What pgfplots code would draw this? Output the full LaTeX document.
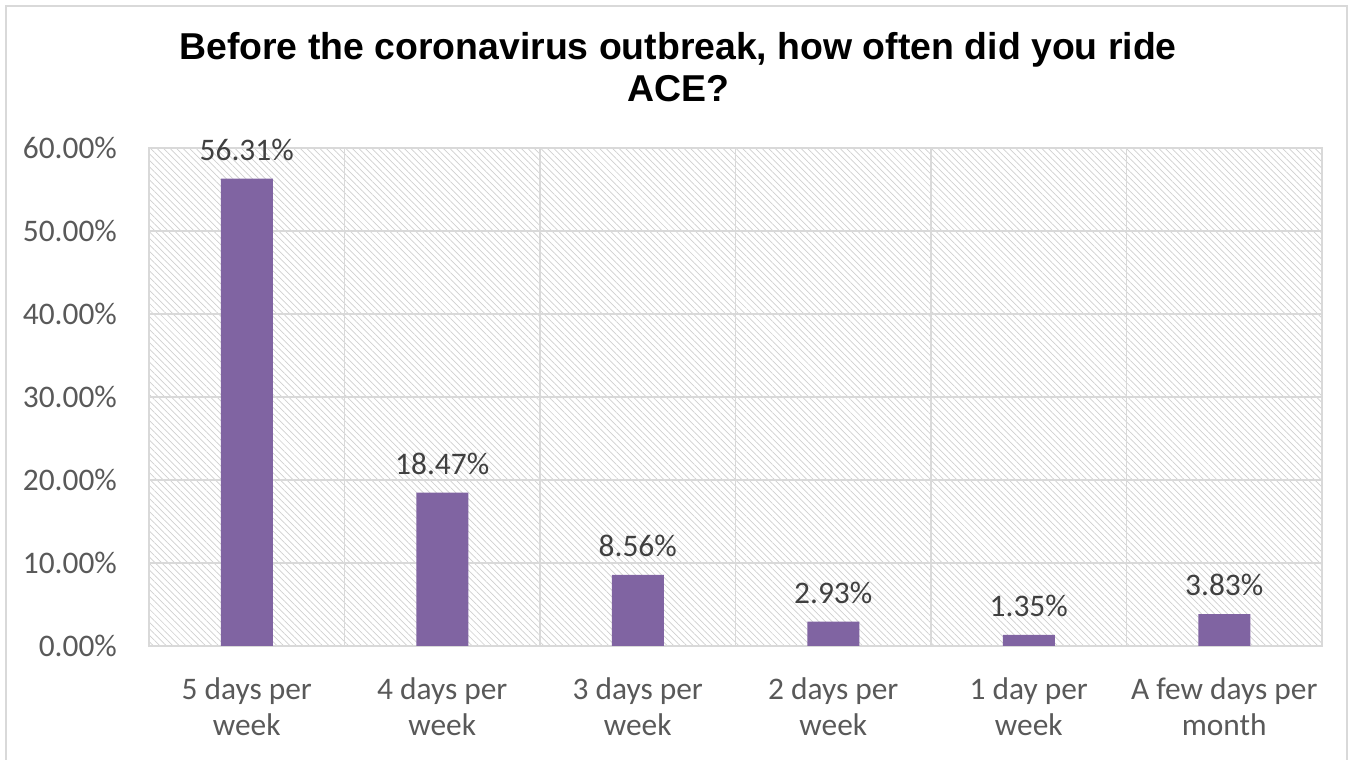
\documentclass[border=0pt]{standalone}
\usepackage{pgfplots}
\pgfplotsset{compat=1.18}
\usepackage{fontspec}
\setmainfont{Carlito}
\newfontfamily\titlefont{Liberation Sans}
\usetikzlibrary{patterns.meta}
\definecolor{barpurple}{HTML}{8064A2}
\definecolor{ticktext}{HTML}{595959}
\definecolor{labeltext}{HTML}{404040}
\definecolor{gridgray}{HTML}{D9D9D9}
\definecolor{hatchgray}{HTML}{CFCFCF}
\begin{document}
\begin{tikzpicture}
\path[use as bounding box] (0,0) rectangle (676pt,379.5pt);
\draw[gridgray, line width=0.8pt] (3pt,-5pt) -- (3pt,376.5pt) -- (673.5pt,376.5pt) -- (673.5pt,-5pt);
\node[anchor=base, font=\titlefont\bfseries\fontsize{18.7}{21}\selectfont] at (339pt,349.5pt) {Before the coronavirus outbreak, how often did you ride};
\node[anchor=base, font=\titlefont\bfseries\fontsize{18.7}{21}\selectfont] at (339pt,328.5pt) {ACE?};
\begin{axis}[
  at={(74.5pt,56.5pt)}, anchor=south west,
  scale only axis, width=586.5pt, height=249pt,
  ybar, bar width=26pt,
  xmin=-0.5, xmax=5.5, ymin=0, ymax=60,
  xtick={0,1,2,3,4,5},
  xticklabels={{5 days per\\week},{4 days per\\week},{3 days per\\week},{2 days per\\week},{1 day per\\week},{A few days per\\month}},
  minor xtick={0.5,1.5,2.5,3.5,4.5},
  ytick={0,10,20,30,40,50,60},
  ymajorgrids, xminorgrids,
  major grid style={gridgray, line width=0.8pt},
  minor grid style={gridgray, line width=0.8pt},
  axis line style={gridgray, line width=0.8pt},
  major tick length=0pt, minor tick length=0pt,
  axis background/.style={pattern={Lines[angle=-45,distance=2.3pt,line width=0.35pt]}, pattern color=hatchgray},
  /pgf/number format/assume math mode=true,
  yticklabel={\pgfmathprintnumber[fixed,fixed zerofill,precision=2]{\tick}\%},
  yticklabel style={font=\fontsize{15.7}{18}\selectfont, text=ticktext, xshift=-12.5pt},
  xticklabel style={font=\fontsize{15.7}{18}\selectfont, text=ticktext, align=center, yshift=-12.5pt},
  nodes near coords={\pgfmathprintnumber[fixed,fixed zerofill,precision=2]{\pgfplotspointmeta}\%},
  nodes near coords style={font=\fontsize{15.7}{18}\selectfont, text=labeltext, anchor=south, yshift=5.5pt},
  clip=false,
]
\addplot[fill=barpurple, draw=none] coordinates {(0,56.31) (1,18.47) (2,8.56) (3,2.93) (4,1.35) (5,3.83)};
\end{axis}
\end{tikzpicture}
\end{document}
